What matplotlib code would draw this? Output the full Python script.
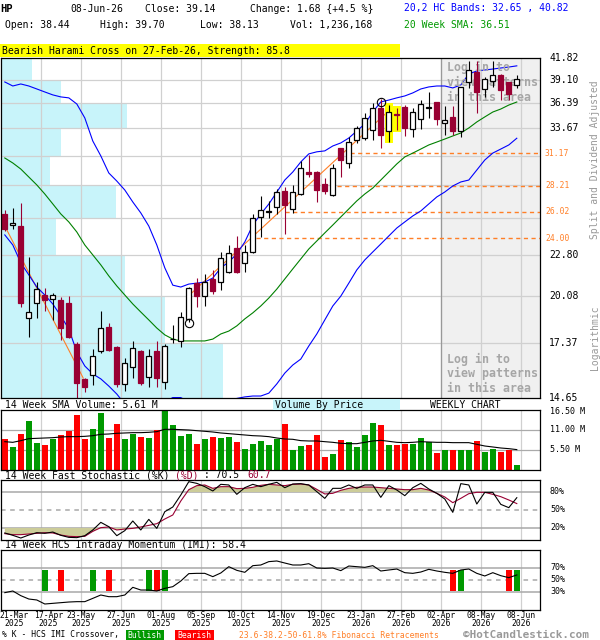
import matplotlib
matplotlib.use("Agg")
import numpy as np
import matplotlib.pyplot as plt
from matplotlib.patches import Rectangle
from matplotlib.transforms import blended_transform_factory

plt.rcParams['font.family'] = ['DejaVu Sans Mono', 'DejaVu Sans']

# ---- weekly candles, 21-Mar-2025 .. 08-Jun-2026 ----
opens = [25.85, 25.00, 24.91, 18.74, 19.62, 20.11, 19.86, 19.82, 19.64, 17.31,
         15.54, 15.72, 16.95, 18.26, 17.15, 15.28, 16.13, 16.94, 15.65, 16.94,
         15.41, 17.55, 17.48, 18.70, 20.86, 20.09, 21.14, 20.97, 21.64, 23.25,
         22.20, 22.97, 25.58, 25.97, 26.38, 27.75, 26.23, 27.47, 29.44, 29.44,
         28.31, 27.40, 31.64, 30.28, 32.47, 32.64, 33.49, 35.87, 33.39, 35.20,
         35.91, 33.64, 34.65, 35.85, 36.48, 34.20, 34.89, 33.39, 38.80, 40.10,
         37.98, 38.90, 39.74, 38.78, 38.44]
highs = [26.16, 26.30, 26.72, 22.66, 20.97, 20.55, 20.23, 19.99, 20.06, 17.40,
         15.60, 17.03, 19.16, 18.45, 17.20, 16.59, 17.47, 17.00, 17.04, 17.47,
         17.31, 18.36, 19.12, 20.65, 21.19, 21.45, 21.75, 22.97, 23.50, 24.14,
         23.50, 25.82, 27.32, 26.90, 27.92, 28.10, 28.27, 30.40, 30.99, 29.50,
         28.85, 30.17, 31.70, 32.80, 33.95, 35.25, 36.36, 36.90, 36.17, 35.86,
         36.17, 35.86, 36.79, 37.60, 36.55, 36.05, 36.10, 38.27, 41.40, 41.40,
         39.45, 41.40, 39.83, 38.85, 39.70]
lows = [24.55, 24.70, 19.42, 17.70, 18.74, 19.18, 18.64, 17.52, 17.65, 14.50,
        14.93, 15.25, 16.85, 16.95, 15.17, 14.96, 15.57, 15.25, 15.17, 15.17,
        15.06, 17.35, 17.16, 18.54, 19.38, 19.46, 20.19, 20.44, 21.53, 21.57,
        21.64, 22.90, 24.10, 25.50, 25.85, 24.29, 25.90, 27.40, 28.94, 26.85,
        27.53, 27.35, 28.94, 29.75, 32.14, 32.47, 32.47, 31.64, 32.30, 33.44,
        32.91, 32.80, 33.64, 34.72, 34.00, 32.98, 32.98, 32.80, 38.15, 35.25,
        37.10, 38.27, 36.73, 36.73, 38.13]
closes = [24.65, 25.15, 19.66, 19.09, 20.48, 19.82, 20.11, 18.17, 17.70, 15.36,
          15.17, 16.68, 18.17, 16.99, 15.30, 16.30, 17.08, 15.33, 16.68, 15.57,
          17.20, 17.60, 18.80, 20.60, 20.09, 20.93, 20.38, 22.55, 22.90, 21.64,
          22.97, 25.50, 26.17, 26.05, 27.64, 26.58, 27.69, 29.75, 29.20, 27.83,
          27.75, 29.75, 30.53, 32.24, 33.66, 34.71, 35.80, 32.98, 35.44, 35.12,
          33.74, 35.44, 36.25, 35.92, 34.65, 34.54, 33.39, 38.22, 40.30, 37.60,
          39.24, 39.74, 37.86, 37.46, 39.14]

upper_band = [38.84, 38.36, 38.60, 38.36, 38.01, 37.66, 37.32, 37.09, 36.98, 36.29,
              34.76, 32.37, 30.92, 29.33, 28.61, 27.83, 26.82, 25.93, 24.90, 23.49,
              21.89, 20.75, 20.63, 20.82, 20.88, 20.95, 21.21, 21.89, 22.29, 22.85,
              23.71, 24.98, 25.84, 26.65, 27.65, 28.70, 29.42, 30.35, 31.11, 31.31,
              31.40, 31.88, 32.18, 32.67, 33.39, 34.12, 35.40, 36.52, 36.73, 36.98,
              37.20, 37.55, 38.01, 38.25, 38.36, 38.36, 38.13, 38.48, 39.81, 40.18,
              40.30, 40.42, 40.55, 40.67, 40.82]
lower_band = [24.23, 23.49, 22.23, 21.42, 20.63, 20.13, 19.58, 18.87, 18.13, 16.89,
              16.17, 15.78, 15.54, 15.20, 14.83, 14.38, 14.12, 14.03, 14.12, 14.29,
              14.47, 14.67, 14.67, 14.47, 14.38, 14.34, 14.38, 14.47, 14.56, 14.63,
              14.70, 14.74, 14.74, 14.87, 15.30, 15.82, 16.22, 16.52, 17.20, 17.85,
              18.64, 19.46, 20.06, 20.88, 21.75, 22.43, 22.99, 23.56, 24.15, 24.75,
              25.22, 25.69, 26.09, 26.66, 27.24, 27.66, 28.18, 28.53, 28.70, 29.60,
              30.53, 31.19, 31.58, 31.98, 32.65]
sma20 = [30.72, 30.25, 29.69, 28.97, 28.27, 27.49, 26.66, 25.85, 25.22, 24.45,
         23.49, 22.78, 22.09, 21.35, 20.70, 20.13, 19.58, 19.10, 18.64, 18.18,
         17.80, 17.57, 17.47, 17.47, 17.47, 17.47, 17.57, 17.85, 18.01, 18.30,
         18.70, 19.05, 19.46, 19.94, 20.50, 21.15, 21.82, 22.50, 23.20, 23.78,
         24.38, 24.98, 25.61, 26.25, 26.91, 27.49, 28.00, 28.70, 29.42, 30.16,
         30.82, 31.19, 31.58, 31.98, 32.27, 32.57, 32.88, 33.18, 33.70, 34.33,
         34.87, 35.40, 35.73, 36.17, 36.51]

# volume in millions and its 14 week average
volume = [8.53, 6.33, 9.90, 13.48, 7.43, 6.88, 8.53, 9.63, 10.73, 15.13,
          8.53, 11.28, 15.68, 8.80, 12.65, 8.53, 9.90, 9.08, 8.80, 11.00,
          16.80, 12.38, 9.35, 9.90, 7.15, 8.53, 9.08, 8.80, 9.08, 7.70,
          5.78, 7.15, 7.98, 6.88, 8.53, 12.65, 5.50, 6.60, 6.88, 9.63,
          3.58, 4.40, 8.25, 7.70, 6.33, 9.63, 12.93, 12.38, 6.88, 6.88,
          7.15, 7.15, 8.80, 7.61, 4.68, 5.50, 5.50, 5.50, 5.50, 7.98,
          4.95, 5.78, 4.95, 5.50, 1.24]
vol_sma = [7.79, 7.61, 8.07, 8.62, 8.71, 8.80, 8.89, 9.08, 9.17, 9.17,
           9.26, 9.44, 9.81, 9.90, 10.09, 10.18, 10.27, 10.27, 10.36, 10.55,
           11.19, 11.19, 11.10, 11.00, 10.82, 10.64, 10.45, 10.18, 10.00, 9.81,
           9.63, 9.44, 9.35, 9.17, 8.80, 8.53, 8.44, 8.07, 7.98, 7.98,
           7.79, 7.61, 7.34, 7.24, 7.24, 7.61, 7.98, 8.16, 7.89, 7.61,
           7.52, 7.61, 7.79, 7.70, 7.61, 7.61, 7.52, 7.52, 7.52, 7.06,
           6.60, 6.33, 6.05, 5.87, 5.61]

stoch_k = [11.7, 7.8, 3.3, 8.3, 12.2, 11.1, 13.3, 7.8, 4.4, 3.9,
           7.2, 16.7, 29.4, 22.2, 7.2, 15.6, 31.7, 16.7, 34.4, 19.4,
           47.2, 55.0, 75.0, 97.2, 94.4, 88.9, 81.7, 92.8, 91.7, 76.1,
           87.2, 92.8, 88.9, 92.8, 96.1, 87.2, 93.3, 93.9, 91.7, 80.6,
           69.4, 86.1, 86.1, 91.7, 86.1, 91.7, 91.7, 71.1, 90.6, 83.3,
           73.9, 87.2, 94.4, 85.0, 77.8, 68.3, 46.1, 93.9, 91.7, 60.0,
           79.4, 79.4, 59.4, 53.9, 70.5]
stoch_d = [10.6, 8.9, 8.9, 10.0, 11.1, 12.2, 11.7, 8.3, 6.1, 5.6,
           6.1, 14.4, 20.6, 21.7, 16.7, 18.3, 19.4, 21.7, 24.4, 27.2,
           35.0, 41.7, 65.0, 83.9, 90.6, 91.7, 86.1, 88.9, 88.9, 85.6,
           86.1, 87.8, 91.1, 92.8, 91.7, 90.6, 92.8, 93.3, 91.7, 84.4,
           76.7, 77.8, 82.8, 86.1, 87.8, 88.3, 88.3, 87.2, 86.1, 85.0,
           83.9, 83.9, 86.1, 83.3, 77.8, 71.7, 62.2, 69.4, 77.2, 79.5,
           79.4, 76.1, 72.2, 66.7, 60.7]
imi = [28.9, 31.7, 23.9, 18.3, 16.7, 10.0, 11.1, 12.2, 13.3, 13.9,
       13.9, 19.4, 25.0, 22.2, 22.2, 25.0, 37.8, 33.3, 33.3, 31.7,
       36.1, 38.9, 48.3, 60.6, 61.1, 61.1, 55.6, 61.7, 72.2, 66.1,
       62.8, 73.9, 75.0, 80.6, 81.7, 78.3, 75.0, 75.0, 77.2, 70.0,
       69.4, 70.0, 65.6, 73.3, 72.2, 71.1, 73.9, 65.0, 66.7, 68.3,
       62.2, 61.1, 63.3, 67.8, 65.0, 62.8, 61.1, 66.7, 68.3, 61.1,
       56.7, 62.2, 57.2, 53.9, 58.4]
cross_idx = [5, 7, 11, 13, 18, 19, 20, 56, 57, 63, 64]
cross_bull = [1, 0, 1, 0, 1, 0, 1, 0, 1, 0, 1]

price_grid = [41.82, 39.10, 36.39, 33.67, 30.95, 28.24, 25.52, 22.80, 20.08, 17.37, 14.65]
hidden_labels = [30.95, 28.24, 25.52]
vbp_volume = [14, 27, 57, 27, 22, 52, 25, 56, 74, 100]   # per price_grid bin, top first
fib_levels = [31.17, 28.21, 26.02, 24.00]
fib_start = [43.2, 41.5, 35.0, 31.4]
trend_down = ([-0.2, 9.8], [25.14, 15.58])
trend_up = ([22.8, 48.1], [20.0, 35.62])
highlight_idx = [48, 49]
mark_idx = [23, 47]
mark_price = [18.45, 36.55]

grid_idx = [4.49 + 5 * k for k in range(13)]
date_days = ['21-Mar', '17-Apr', '23-May', '27-Jun', '01-Aug', '05-Sep', '10-Oct',
             '14-Nov', '19-Dec', '23-Jan', '27-Feb', '02-Apr', '08-May', '08-Jun']
date_years = ['2025'] * 9 + ['2026'] * 5

MAROON = '#990033'
GREEN = '#009900'
RED = '#ff0000'
ORANGE = '#ff7f27'
GRID = '#d0d0d0'
XMIN, XMAX = -0.475, 66.9

n = len(opens)
idx = np.arange(n)
up = np.array(closes) >= np.array(opens)

fig = plt.figure(figsize=(6, 6.4), dpi=100)
W, H = 600.0, 640.0


def fx(x):
    return x / W


def fy(y):
    return 1 - y / H


def make_panel(top, bottom):
    a = fig.add_axes([1 / W, 1 - bottom / H, 539 / W, (bottom - top) / H])
    a.set_xlim(XMIN, XMAX)
    a.set_xticks([])
    for s in a.spines.values():
        s.set_linewidth(0.9)
        s.set_color('black')
        s.set_zorder(10)
    return a


# ---------------- header ----------------
fs = 7
fig.text(fx(0), fy(9), 'HP', weight='bold', size=7.5, va='center')
fig.text(fx(70), fy(9), '08-Jun-26', size=fs, va='center')
fig.text(fx(145), fy(9), 'Close: 39.14', size=fs, va='center')
fig.text(fx(250), fy(9), 'Change: 1.68 {+4.5 %}', size=fs, va='center')
fig.text(fx(404), fy(8), '20,2 HC Bands: 32.65 , 40.82', size=fs, va='center', color='#0000ff')
fig.text(fx(5), fy(25), 'Open: 38.44', size=fs, va='center')
fig.text(fx(100), fy(25), 'High: 39.70', size=fs, va='center')
fig.text(fx(200), fy(25), 'Low: 38.13', size=fs, va='center')
fig.text(fx(290), fy(25), 'Vol: 1,236,168', size=fs, va='center')
fig.text(fx(404), fy(25), '20 Week SMA: 36.51', size=fs, va='center', color=GREEN)
fig.add_artist(Rectangle((0, fy(57)), fx(400), 13 / H, transform=fig.transFigure,
                         facecolor='#ffff00', edgecolor='none'))
fig.text(fx(2), fy(50.5), 'Bearish Harami Cross on 27-Feb-26, Strength: 85.8', size=fs, va='center')

# ---------------- main price panel ----------------
ax = make_panel(58, 398)
ax.set_yscale('log')
ax.set_ylim(price_grid[-1], price_grid[0])
ax.set_yticks([])
ax.set_yticks([], minor=True)

ytr = ax.get_yaxis_transform()
vmax = max(vbp_volume)
for lo, hi, v in zip(price_grid[1:], price_grid[:-1], vbp_volume):
    ax.add_patch(Rectangle((0, lo), 0.411 * v / vmax, hi - lo, transform=ytr,
                           facecolor='#c8f4fa', edgecolor='none', zorder=0.3))

login_start = grid_idx[10]
ax.axvspan(login_start, XMAX, facecolor='#f0f0f0', edgecolor='none', zorder=0.4)
for g in grid_idx:
    ax.axvline(g, color=GRID, lw=0.9, zorder=0.6)
for p in price_grid[1:-1]:
    ax.axhline(p, color=GRID, lw=0.9, zorder=0.6)
ax.axvline(login_start, color='#999999', lw=0.9, zorder=0.7)

for lvl, st in zip(fib_levels, fib_start):
    ax.hlines(lvl, st, XMAX, colors=ORANGE, linestyles=(0, (3, 2.5)), lw=1.0, zorder=1)
ax.plot(*trend_down, color=ORANGE, lw=0.8, zorder=1.2)
ax.plot(*trend_up, color=ORANGE, lw=0.8, zorder=1.2)

for i in highlight_idx:
    ax.add_patch(Rectangle((i - 0.5, lows[i] * 0.995), 1.0, highs[i] * 1.005 - lows[i] * 0.995,
                           facecolor='#ffff00', edgecolor='none', zorder=1.5))

ax.plot(idx, upper_band, color='#0000ff', lw=0.8, zorder=2)
ax.plot(idx, lower_band, color='#0000ff', lw=0.8, zorder=2)
ax.plot(idx, sma20, color='#008000', lw=0.8, zorder=2)

# login notice text sits under the candles
for j, line in enumerate(['Log in to', 'view patterns', 'in this area']):
    for y0 in (67.5, 359):
        ax.text(fx(447), fy(y0 + 14.8 * j), line, transform=fig.transFigure, size=8.4,
                weight='bold', color='#a6a6a6', va='center', zorder=2.7)

for i in range(n):
    o, h, l, c = opens[i], highs[i], lows[i], closes[i]
    col = 'black' if up[i] else MAROON
    ax.vlines(i, l, h, color=col, lw=0.8, zorder=3)
    bot, top = min(o, c), max(o, c)
    ax.add_patch(Rectangle((i - 0.3, bot), 0.6, top - bot,
                           facecolor='white' if up[i] else MAROON,
                           edgecolor=col, lw=0.9, zorder=3.1))

ax.plot(mark_idx, mark_price, 'o', mfc='none', mec='black', ms=6, mew=0.8, zorder=4)

for p in price_grid:
    if p in hidden_labels:
        continue
    ax.text(1.0167, p, f'{p:.2f}', transform=ytr, ha='left', va='center', size=7, clip_on=False)
for lvl in fib_levels:
    ax.text(1.0093, lvl, f'{lvl:.2f}', transform=ytr, ha='left', va='center', size=5.8,
            color=ORANGE, clip_on=False)
fig.text(fx(595), fy(160), 'Split and Dividend Adjusted', rotation=90, ha='center',
         va='center', size=7, color='#999999')
fig.text(fx(595), fy(338), 'Logarithmic', rotation=90, ha='center', va='center',
         size=7, color='#999999')

# ---------------- volume panel ----------------
fig.text(fx(5), fy(405), '14 Week SMA Volume: 5.61 M', size=fs, va='center')
fig.add_artist(Rectangle((fx(273), fy(409.5)), 127 / W, 10.5 / H, transform=fig.transFigure,
                         facecolor='#c8f4fa', edgecolor='none'))
fig.text(fx(275), fy(404.5), 'Volume By Price', size=fs, va='center')
fig.text(fx(430), fy(404.5), 'WEEKLY CHART', size=fs, va='center')

axv = make_panel(410, 470)
axv.set_ylim(0, 16.5)
axv.set_yticks([])
for g in grid_idx:
    axv.axvline(g, color=GRID, lw=0.9, zorder=0.5)
for v in (5.5, 11.0):
    axv.axhline(v, color='#aaaaaa', lw=0.9, zorder=0.5)
axv.bar(idx, volume, width=0.7, color=[GREEN if u else RED for u in up], zorder=2)
axv.plot(idx, vol_sma, color='black', lw=0.8, zorder=3)
vtr = axv.get_yaxis_transform()
for v, s in ((16.5, '16.50 M'), (11.0, '11.00 M'), (5.5, '5.50 M')):
    axv.text(1.0185, v if v < 16 else 16.0, s, transform=vtr, ha='left', va='center',
             size=6, clip_on=False)

# ---------------- stochastic panel ----------------
fig.text(fx(5), fy(475.5), '14 Week Fast Stochastic (%K)', size=fs, va='center')
fig.text(fx(175), fy(475.5), '(%D)', size=fs, va='center', color=MAROON)
fig.text(fx(198), fy(475.5), ' : 70.5', size=fs, va='center')
fig.text(fx(247), fy(475.5), '60.7', size=fs, va='center', color=MAROON)

axs = make_panel(480, 540)
axs.set_ylim(0, 100)
axs.set_yticks([])
for g in grid_idx:
    axs.axvline(g, color=GRID, lw=0.9, zorder=0.5)
axs.axhline(80, color='#a8a8a8', lw=1.1, zorder=0.6)
axs.axhline(20, color='#a8a8a8', lw=1.1, zorder=0.6)
axs.axhline(50, color='#a8a8a8', lw=1.1, ls=(0, (3, 3)), zorder=0.6)
sd = np.array(stoch_d)
axs.fill_between(idx, sd, 80, where=sd > 80, interpolate=True, color='#cccc99', lw=0, zorder=1)
axs.fill_between(idx, sd, 20, where=sd < 20, interpolate=True, color='#cccc99', lw=0, zorder=1)
axs.plot(idx, stoch_k, color='black', lw=0.8, zorder=3)
axs.plot(idx, stoch_d, color=MAROON, lw=0.8, zorder=2)
str_ = axs.get_yaxis_transform()
for v in (80, 50, 20):
    axs.text(1.0185, v, f'{v}%', transform=str_, ha='left', va='center', size=6, clip_on=False)

# ---------------- IMI panel ----------------
fig.text(fx(5), fy(545.5), '14 Week HCS Intraday Momentum (IMI): 58.4', size=fs, va='center')
axi = make_panel(550, 610)
axi.set_ylim(0, 100)
axi.set_yticks([])
for g in grid_idx:
    axi.axvline(g, color=GRID, lw=0.9, zorder=0.5)
axi.axhline(70, color='#a8a8a8', lw=1.1, zorder=0.6)
axi.axhline(30, color='#a8a8a8', lw=1.1, zorder=0.6)
axi.axhline(50, color='#a8a8a8', lw=1.1, ls=(0, (3, 3)), zorder=0.6)
for i, b in zip(cross_idx, cross_bull):
    axi.add_patch(Rectangle((i - 0.35, 32), 0.7, 35, facecolor=GREEN if b else RED,
                            edgecolor='none', zorder=2))
axi.plot(idx, imi, color='black', lw=0.8, zorder=3)
itr = axi.get_yaxis_transform()
for v in (70, 50, 30):
    axi.text(1.0185, v, f'{v}%', transform=itr, ha='left', va='center', size=6, clip_on=False)

dtr = blended_transform_factory(axi.transData, fig.transFigure)
# first two labels are nudged apart so they do not collide at the left edge
label_x = [XMIN + 1.65, grid_idx[0] + 0.95] + grid_idx[1:]
for xpos, d, yr in zip(label_x, date_days, date_years):
    axi.text(xpos, fy(615.5), d, transform=dtr, ha='center', va='center', size=5.8, clip_on=False)
    axi.text(xpos, fy(624), yr, transform=dtr, ha='center', va='center', size=5.8, clip_on=False)

# ---------------- bottom legend ----------------
fig.text(fx(2), fy(635), '% K - HCS IMI Crossover,', size=5.8, va='center')
fig.add_artist(Rectangle((fx(125.5), fy(639.5)), 38.3 / W, 9.5 / H, transform=fig.transFigure,
                         facecolor=GREEN, edgecolor='none'))
fig.text(fx(144.6), fy(635), 'Bullish', size=5.8, va='center', ha='center', color='white')
fig.add_artist(Rectangle((fx(175), fy(639.5)), 38.5 / W, 9.5 / H, transform=fig.transFigure,
                         facecolor=RED, edgecolor='none'))
fig.text(fx(194.2), fy(635), 'Bearish', size=5.8, va='center', ha='center', color='white')
fig.text(fx(239), fy(635.5), '23.6-38.2-50-61.8% Fibonacci Retracements', size=5.8,
         va='center', color=ORANGE)
fig.text(fx(463), fy(634.5), '\u00a9HotCandlestick.com', size=7.9, weight='bold',
         va='center', color='#999999')

fig.savefig('out.png', dpi=100)
